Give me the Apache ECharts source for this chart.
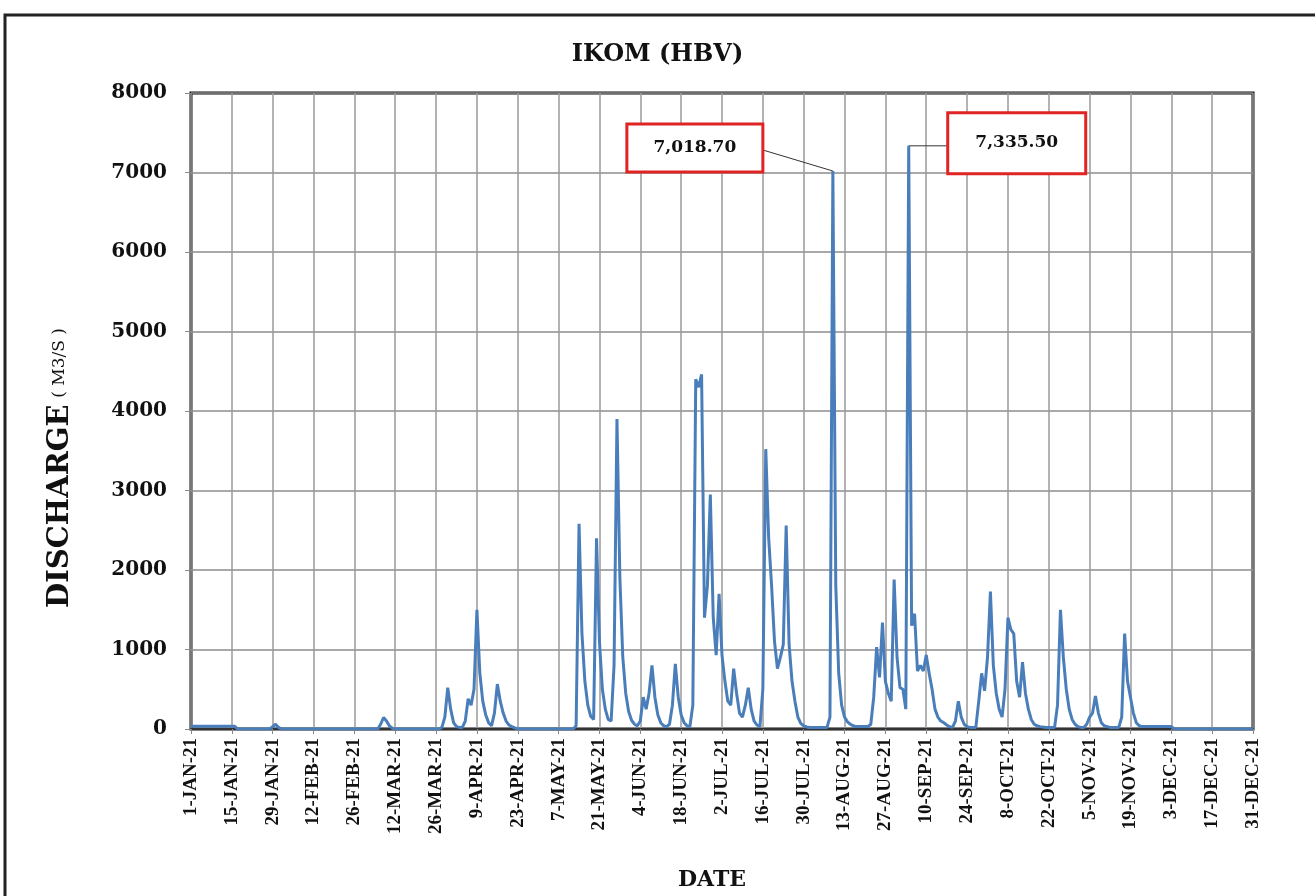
<!DOCTYPE html>
<html>
<head>
<meta charset="utf-8">
<title>IKOM (HBV)</title>
<script src="https://cdn.jsdelivr.net/npm/echarts@6/dist/echarts.min.js"></script>
<style>
  html, body { margin: 0; padding: 0; background: #fff; }
  #chart { width: 1315px; height: 896px; }
</style>
</head>
<body>
<div id="chart"></div>
<script>
// daily discharge (m3/s), 2021, one array per month
const jan = [35,35,35,35,35,35,35,35,35,35,35,35,35,35,35,35, 0,0,0,0,0,0,0,0,0,0,0,0, 30,60,20];
const feb = [0,0,0,0,0,0,0,0,0,0,0,0,0,0,0,0,0,0,0,0,0,0,0,0,0,0,0,0];
const mar = [0,0,0,0,0,0, 60,145,100,40,10, 0,0,0,0,0,0,0,0,0,0,0,0,0,0,0,0, 20,150,520,250];
const apr = [80,30,20,20,100,380,300,500,1500,700,350,180,80,40,200,565,350,200,100,50,30,15, 0,0,0,0,0,0,0,0];
const may = [0,0,0,0,0,0,0,0,0,0,0,0, 40,2580,1200,600,300,160,120,2400,1100,500,250,120,100,800,3900,1900,900,450,220];
const jun = [110,60,40,100,400,250,450,800,400,180,80,40,30,60,300,820,400,180,80,40,30,300,4400,4300,4460,1400,1800,2950,1400,930];
const jul = [1700,930,600,350,300,760,450,200,150,300,520,250,100,50,30,500,3520,2400,1800,1100,760,900,1060,2560,1060,600,350,150,70,40,25];
const aug = [20,20,20,20,20,20,20, 150,7018.7,1800,700,300,150,90,60,40, 30,30,30,30,30, 60,400,1030,650,1340,600,450,350,1880,900];
const sep = [520,500,250,7335.5,1300,1450,730,800,730,930,700,500,250,150,100,80,50,30,20,100,350,150,60,30,20,20,20,350,700,480];
const oct = [900,1730,800,450,250,150,500,1400,1250,1200,600,400,840,450,250,120,60,40,30,25, 20,20,20,20, 300,1500,900,500,250,120,60];
const nov = [30,20,20,60,150,200,415,200,80,40,30, 20,20,20,20, 150,1200,600,400,200,80,40, 30,30,30,30,30,30,30,30];
const dec = [30,30,30, 0,0,0,0,0,0,0,0,0,0,0,0,0,0,0,0,0,0,0,0,0,0,0,0,0,0,0,0];

const discharge = [].concat(jan, feb, mar, apr, may, jun, jul, aug, sep, oct, nov, dec);

const monthNames = ['Jan','Feb','Mar','Apr','May','Jun','Jul','Aug','Sep','Oct','Nov','Dec'];
const dates = [];
for (let i = 0; i < discharge.length; i++) {
  const d = new Date(2021, 0, 1 + i);
  dates.push(d.getDate() + '-' + monthNames[d.getMonth()] + '-21');
}

// annotated peaks
const peakLabels = ['7,018.70', '7,335.50'];
const peakIndex = [discharge.indexOf(7018.7), discharge.indexOf(7335.5)];

const serif = '"DejaVu Serif", "Liberation Serif", serif';

const chart = echarts.init(document.getElementById('chart'));

chart.setOption({
  backgroundColor: '#ffffff',
  animation: false,
  title: {
    text: 'IKOM (HBV)',
    left: 'center',
    top: 38,
    textStyle: { fontFamily: serif, fontWeight: 'bold', fontSize: 24, color: '#111' }
  },
  grid: {
    left: 191, top: 93, width: 1062, height: 636,
    show: true, borderColor: '#111', borderWidth: 3
  },
  xAxis: {
    type: 'category',
    data: dates,
    boundaryGap: false,
    axisLine: { show: true, lineStyle: { color: '#333', width: 2 } },
    axisTick: { show: true, interval: 13, length: 5, lineStyle: { color: '#888' } },
    splitLine: { show: true, interval: 13, lineStyle: { color: '#9a9a9a', width: 1.5 } },
    axisLabel: {
      interval: 13,
      rotate: 90,
      margin: 9,
      fontFamily: '"Liberation Serif", "DejaVu Serif", serif',
      fontWeight: 'bold',
      fontSize: 19,
      color: '#111',
      formatter: v => v.toUpperCase()
    }
  },
  yAxis: {
    type: 'value',
    min: 0, max: 8000, interval: 1000,
    axisLine: { show: false },
    axisTick: { show: true, length: 6, lineStyle: { color: '#888' } },
    splitLine: { lineStyle: { color: '#8c8c8c', width: 1.5 } },
    axisLabel: {
      margin: 24,
      fontFamily: serif,
      fontWeight: 'bold',
      fontSize: 20,
      color: '#111',
      formatter: v => String(v)
    }
  },
  series: [{
    type: 'line',
    data: discharge,
    symbol: 'none',
    lineStyle: { color: '#4a7ebb', width: 3 },
    z: 3
  }]
});

// annotation boxes, placed from the axis scales
const graphics = [
  {
    type: 'rect', silent: true, z: -1,
    shape: { x: 5, y: 15, width: 1340, height: 900 },
    style: { fill: 'none', stroke: '#222', lineWidth: 3 }
  },
  {
    type: 'text', silent: true,
    x: 60, y: 468, rotation: Math.PI / 2,
    style: {
      text: '{a|DISCHARGE}  {b|( M3/S )}',
      align: 'center', verticalAlign: 'middle',
      rich: {
        a: { fontFamily: serif, fontWeight: 'bold', fontSize: 29, fill: '#111' },
        b: { fontFamily: serif, fontSize: 17, fill: '#111' }
      }
    }
  },
  {
    type: 'text', silent: true,
    x: 712, y: 880,
    style: {
      text: 'DATE', align: 'center', verticalAlign: 'middle',
      fontFamily: serif, fontWeight: 'bold', fontSize: 22, fill: '#111'
    }
  }
];

const p1 = chart.convertToPixel({ seriesIndex: 0 }, [peakIndex[0], discharge[peakIndex[0]]]);
const p2 = chart.convertToPixel({ seriesIndex: 0 }, [peakIndex[1], discharge[peakIndex[1]]]);

// first peak: box to the upper left
const b1 = { x: p1[0] - 206, y: p1[1] - 47, w: 136, h: 48 };
graphics.push(
  { type: 'line', silent: true, shape: { x1: b1.x + b1.w, y1: b1.y + 26, x2: p1[0], y2: p1[1] }, style: { stroke: '#333', lineWidth: 1 } },
  { type: 'rect', silent: true, shape: { x: b1.x, y: b1.y, width: b1.w, height: b1.h }, style: { fill: '#fff', stroke: '#e02424', lineWidth: 3 } },
  { type: 'text', silent: true, x: b1.x + b1.w / 2, y: b1.y + b1.h / 2, style: { text: peakLabels[0], align: 'center', verticalAlign: 'middle', fontFamily: serif, fontWeight: 'bold', fontSize: 17, fill: '#111' } }
);

// second peak: box to the right
const b2 = { x: p2[0] + 39, y: p2[1] - 33, w: 138, h: 61 };
graphics.push(
  { type: 'line', silent: true, shape: { x1: p2[0], y1: p2[1], x2: b2.x, y2: p2[1] }, style: { stroke: '#333', lineWidth: 1 } },
  { type: 'rect', silent: true, shape: { x: b2.x, y: b2.y, width: b2.w, height: b2.h }, style: { fill: '#fff', stroke: '#e02424', lineWidth: 3 } },
  { type: 'text', silent: true, x: b2.x + b2.w / 2, y: b2.y + 30, style: { text: peakLabels[1], align: 'center', verticalAlign: 'middle', fontFamily: serif, fontWeight: 'bold', fontSize: 17, fill: '#111' } }
);

chart.setOption({ graphic: graphics });
</script>
</body>
</html>
